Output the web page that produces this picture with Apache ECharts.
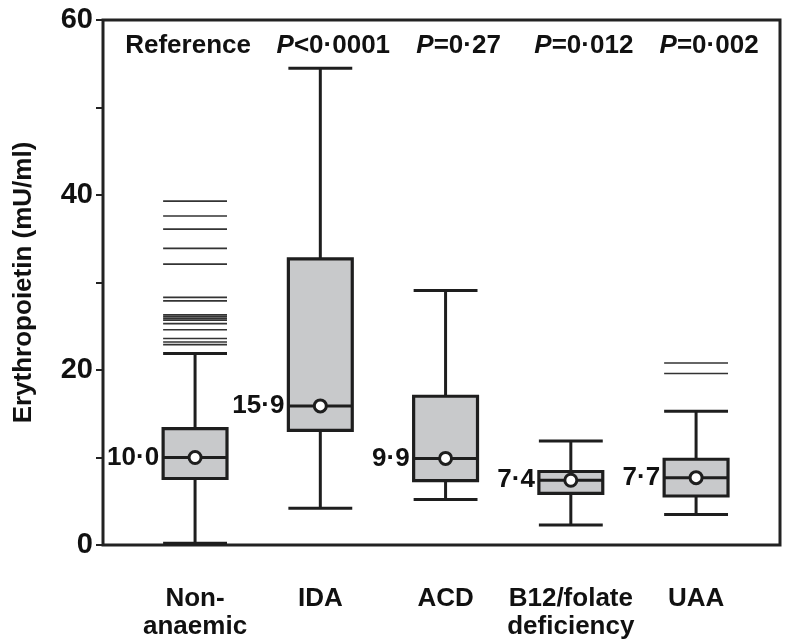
<!DOCTYPE html>
<html>
<head>
<meta charset="utf-8">
<script src="https://cdn.jsdelivr.net/npm/echarts@6/dist/echarts.min.js"></script>
<style>html,body{margin:0;padding:0;background:#fff}#c{width:800px;height:644px}</style>
</head>
<body>
<div id="c"></div>
<script>
// ---- data ----
var categories = ['Non-\nanaemic', 'IDA', 'ACD', 'B12/folate\ndeficiency', 'UAA'];
var pLabels = ['Reference', '<0·0001', '=0·27', '=0·012', '=0·002'];
var whiskerLow = [0.2, 4.2, 5.2, 2.3, 3.5];
var q1 = [7.6, 13.1, 7.35, 5.9, 5.6];
var medians = [10.0, 15.9, 9.9, 7.4, 7.7];
var q3 = [13.3, 32.7, 17.0, 8.4, 9.8];
var whiskerHigh = [21.9, 54.5, 29.1, 11.9, 15.3];
var outliersNonAnaemic = [39.3, 37.6, 36.1, 33.9, 32.1, 28.3, 27.9, 26.3, 26.1, 25.9, 25.7, 25.3, 24.6, 23.6, 23.2, 22.9];
var outliersUAA = [20.8, 19.6];
var yTicks = [0, 20, 40, 60];

// ---- build ----
var boxData = categories.map(function (c, i) {
  return [i + 1, whiskerLow[i], q1[i], medians[i], q3[i], whiskerHigh[i]];
});
var outlierData = [];
outliersNonAnaemic.forEach(function (v) { outlierData.push([1, v]); });
outliersUAA.forEach(function (v) { outlierData.push([5, v]); });

var DARK = '#1e1e1e';
var FONT = '"Liberation Sans", Arial, Helvetica, sans-serif';

function fmt(v) { return v.toFixed(1).replace('.', '·'); }

function renderBox(params, api) {
  var x = api.value(0);
  var pMin = api.coord([x, api.value(1)]);
  var pQ1 = api.coord([x, api.value(2)]);
  var pMed = api.coord([x, api.value(3)]);
  var pQ3 = api.coord([x, api.value(4)]);
  var pMax = api.coord([x, api.value(5)]);
  var w = api.size([1, 0])[0] * 0.51;
  var cx = pMed[0];
  var l = cx - w / 2, r = cx + w / 2;
  var ls = { stroke: DARK, lineWidth: 3 };
  return {
    type: 'group',
    children: [
      { type: 'line', shape: { x1: cx, y1: pMin[1], x2: cx, y2: pQ1[1] }, style: ls },
      { type: 'line', shape: { x1: cx, y1: pQ3[1], x2: cx, y2: pMax[1] }, style: ls },
      { type: 'line', shape: { x1: l, y1: pMin[1], x2: r, y2: pMin[1] }, style: ls },
      { type: 'line', shape: { x1: l, y1: pMax[1], x2: r, y2: pMax[1] }, style: ls },
      { type: 'rect', shape: { x: l, y: pQ3[1], width: w, height: pQ1[1] - pQ3[1] },
        style: { fill: '#c8c9cb', stroke: DARK, lineWidth: 3.2 } },
      { type: 'line', shape: { x1: l, y1: pMed[1], x2: r, y2: pMed[1] }, style: ls },
      { type: 'circle', shape: { cx: cx, cy: pMed[1], r: 6 },
        style: { fill: '#fff', stroke: DARK, lineWidth: 3 } },
      { type: 'text', x: l - 4, y: pMed[1],
        style: { text: fmt(api.value(3)), align: 'right', verticalAlign: 'middle',
          fontSize: 26, fontWeight: 'bold', fontFamily: FONT, fill: '#111' } }
    ]
  };
}

function renderOutlier(params, api) {
  var p = api.coord([api.value(0), api.value(1)]);
  var w = api.size([1, 0])[0] * 0.51;
  return { type: 'line', shape: { x1: p[0] - w / 2, y1: p[1], x2: p[0] + w / 2, y2: p[1] },
    style: { stroke: '#333', lineWidth: 1.7 } };
}

var chart = echarts.init(document.getElementById('c'), null, { renderer: 'canvas' });
chart.setOption({
  animation: false,
  backgroundColor: '#fff',
  grid: { left: 103, right: 20, top: 20, bottom: 99, show: true, borderColor: '#222', borderWidth: 3, backgroundColor: 'transparent' },
  xAxis: [{
    type: 'value', min: 0.265, max: 5.67, position: 'bottom',
    axisLine: { show: false }, axisTick: { show: false }, splitLine: { show: false },
    axisLabel: {
      margin: 40, fontSize: 26, fontWeight: 'bold', fontFamily: FONT, color: '#111', lineHeight: 28,
      showMinLabel: false, showMaxLabel: false,
      formatter: function (v) {
        var i = Math.round(v);
        return (Math.abs(v - i) < 1e-6 && i >= 1 && i <= categories.length) ? categories[i - 1] : '';
      }
    }
  }, {
    type: 'value', min: 0.265, max: 5.67, position: 'top',
    axisLine: { show: false }, axisTick: { show: false }, splitLine: { show: false },
    axisLabel: {
      inside: true, margin: 13, padding: [0, 0, 0, 26],
      fontSize: 26, fontWeight: 'bold', fontFamily: FONT, color: '#111',
      showMinLabel: false, showMaxLabel: false,
      formatter: function (v) {
        var i = Math.round(v);
        if (!(Math.abs(v - i) < 1e-6 && i >= 1 && i <= pLabels.length)) return '';
        if (i === 1) return '{r|' + pLabels[0] + '}';
        return '{i|P}{n|' + pLabels[i - 1] + '}';
      },
      rich: {
        r: { fontSize: 26, fontWeight: 'bold', fontFamily: FONT, color: '#111', padding: [0, 40, 0, 0] },
        i: { fontSize: 26, fontWeight: 'bold', fontStyle: 'italic', fontFamily: FONT, color: '#111' },
        n: { fontSize: 26, fontWeight: 'bold', fontFamily: FONT, color: '#111' }
      }
    }
  }],
  yAxis: {
    type: 'value', min: 0, max: 60, interval: 10,
    name: 'Erythropoietin (mU/ml)', nameLocation: 'middle', nameGap: 66, nameRotate: 90,
    nameTextStyle: { fontSize: 26, fontWeight: 'bold', fontFamily: FONT, color: '#111' },
    axisLine: { show: false },
    axisTick: { show: true, length: 7, lineStyle: { color: '#222', width: 2 } },
    splitLine: { show: false },
    axisLabel: {
      margin: 10, fontSize: 29, fontWeight: 'bold', fontFamily: FONT, color: '#111',
      formatter: function (v) { return yTicks.indexOf(v) >= 0 ? String(v) : ''; }
    }
  },
  series: [{
    type: 'custom', xAxisIndex: 0, yAxisIndex: 0, data: outlierData, renderItem: renderOutlier,
    encode: { x: 0, y: 1 }, z: 2
  }, {
    type: 'custom', xAxisIndex: 0, yAxisIndex: 0, data: boxData, renderItem: renderBox,
    encode: { x: 0, y: [1, 2, 3, 4, 5] }, z: 3
  }]
});
</script>
</body>
</html>
